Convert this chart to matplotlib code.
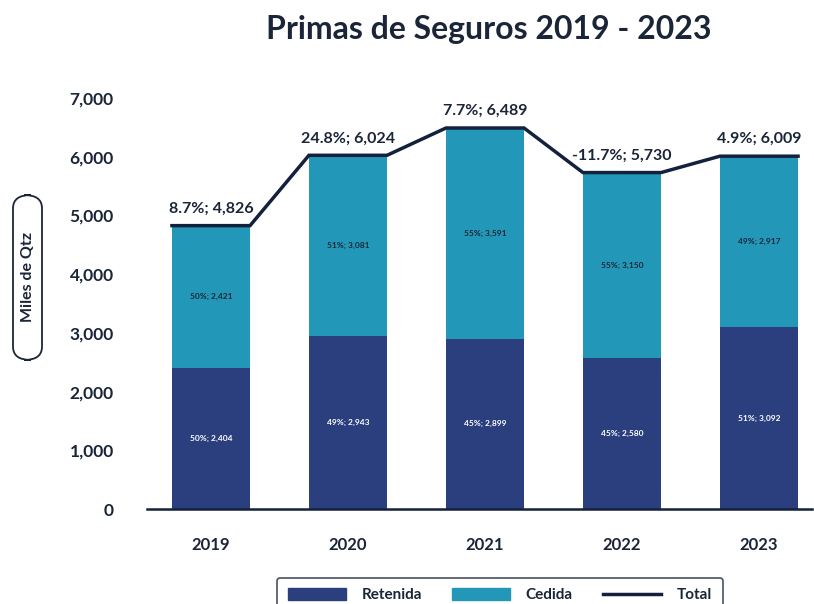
import matplotlib.pyplot as plt
from matplotlib.patches import FancyBboxPatch, Patch
from matplotlib.lines import Line2D
import numpy as np

plt.rcParams['font.family'] = ['Lato', 'DejaVu Sans']

# data
years = ["2019", "2020", "2021", "2022", "2023"]
retenida = [2404, 2943, 2899, 2580, 3092]
cedida = [2421, 3081, 3591, 3150, 2917]
total = [4826, 6024, 6489, 5730, 6009]
growth = ["8.7%", "24.8%", "7.7%", "-11.7%", "4.9%"]
pct_retenida = [50, 49, 45, 45, 51]
pct_cedida = [50, 51, 55, 55, 49]

c_ret = "#2b3f7e"
c_ced = "#2397b8"
c_tot = "#14213d"
c_txt = "#1b2538"

fig = plt.figure(figsize=(8.14, 6.04), dpi=100)
ax = fig.add_axes([147 / 814, 95 / 604, 665 / 814, 411 / 604])

x = np.arange(len(years))
w = 0.57
ax.bar(x, retenida, w, color=c_ret, label="Retenida")
ax.bar(x, cedida, w, bottom=retenida, color=c_ced, label="Cedida")

# total line: flat over each bar, joined between bars
lx, ly = [], []
for i, t in enumerate(total):
    lx += [x[i] - w / 2, x[i] + w / 2]
    ly += [t, t]
ax.plot(lx, ly, color=c_tot, lw=2.5, solid_joinstyle='miter', label="Total")

for i in range(len(years)):
    ax.text(x[i], total[i] + 170, f"{growth[i]}; {total[i]:,}", ha='center', va='bottom',
            fontsize=11.5, fontweight='bold', color=c_txt)
    ax.text(x[i], retenida[i] / 2, f"{pct_retenida[i]}%; {retenida[i]:,}", ha='center',
            va='center', fontsize=6, fontweight='bold', color='white')
    ax.text(x[i], retenida[i] + cedida[i] / 2, f"{pct_cedida[i]}%; {cedida[i]:,}", ha='center',
            va='center', fontsize=6, fontweight='bold', color=c_txt)

ax.set_xlim(-0.467, 4.387)
ax.set_ylim(0, 7000)
ax.set_yticks(np.arange(0, 7001, 1000))
ax.set_yticklabels([f"{v:,}" for v in range(0, 7001, 1000)])
ax.set_xticks(x)
ax.set_xticklabels(years)
ax.tick_params(axis='both', length=0, labelcolor=c_txt)
ax.tick_params(axis='y', pad=24, labelsize=12.5)
ax.tick_params(axis='x', pad=20, labelsize=12)
for lbl in ax.get_xticklabels() + ax.get_yticklabels():
    lbl.set_fontweight('bold')
for s in ['top', 'right', 'left']:
    ax.spines[s].set_visible(False)
ax.spines['bottom'].set_color(c_tot)
ax.spines['bottom'].set_linewidth(1.8)

fig.text(489 / 814, 1 - 30 / 604, "Primas de Seguros 2019 - 2023", ha='center', va='center',
         fontsize=23, fontweight='bold', color=c_txt)

# y label in rounded box
box = FancyBboxPatch((13 / 814, 1 - 360 / 604), 29 / 814, 165 / 604,
                     boxstyle="round,pad=0,rounding_size=0.022", transform=fig.transFigure,
                     fill=False, edgecolor=c_txt, linewidth=1.3)
fig.patches.append(box)
fig.text(27.5 / 814, 1 - 277 / 604, "Miles de Qtz", rotation=90, ha='center', va='center',
         fontsize=11.5, fontweight='bold', color=c_txt)

handles = [Patch(color=c_ret), Patch(color=c_ced), Line2D([0], [0], color=c_tot, lw=2.5)]
leg = fig.legend(handles, ["Retenida", "Cedida", "Total"], loc='upper center',
                 bbox_to_anchor=(500 / 814, 1 - 570 / 604), ncol=3, fontsize=11,
                 frameon=True, fancybox=True, handlelength=3.8, handleheight=0.8,
                 columnspacing=2.0, borderpad=0.7, handletextpad=1.0)
leg.get_frame().set_edgecolor(c_txt)
leg.get_frame().set_linewidth(1.2)
for t in leg.get_texts():
    t.set_fontweight('bold')
    t.set_color(c_txt)

fig.savefig("out.png", dpi=100)
